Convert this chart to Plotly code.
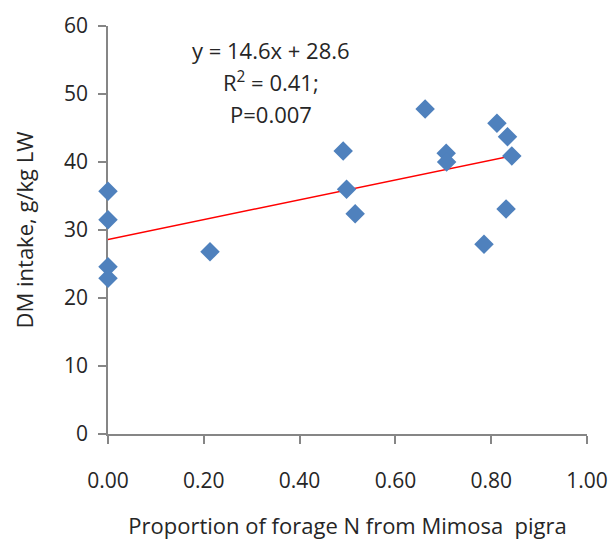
import plotly.graph_objects as go

# Data
x_vals = [0.0, 0.0, 0.0, 0.0, 0.213, 0.491, 0.498, 0.516, 0.662, 0.706, 0.707, 0.785, 0.812, 0.831, 0.834, 0.843]
y_vals = [35.7, 31.5, 24.6, 22.9, 26.8, 41.6, 36.0, 32.4, 47.8, 41.3, 40.0, 27.9, 45.7, 33.1, 43.7, 40.9]

slope = 14.6
intercept = 28.6
eq_lines = ["y = 14.6x + 28.6", "R<sup>2</sup> = 0.41;", "P=0.007"]

x_ticks = [0.0, 0.2, 0.4, 0.6, 0.8, 1.0]
y_ticks = [0, 10, 20, 30, 40, 50, 60]

FONT = "Open Sans"
TXT = "#262626"
AX = "#868686"

trend_x = [0.0, max(x_vals)]
trend_y = [intercept + slope * v for v in trend_x]

fig = go.Figure()
fig.add_trace(go.Scatter(
    x=trend_x, y=trend_y, mode="lines",
    line=dict(color="#FF0000", width=1.5),
    showlegend=False, hoverinfo="skip",
))
fig.add_trace(go.Scatter(
    x=x_vals, y=y_vals, mode="markers",
    marker=dict(symbol="diamond", size=15, color="#4F81BD"),
    cliponaxis=False, showlegend=False,
))

ann_y = [56.4, 51.8, 47.1]
for txt, yy in zip(eq_lines, ann_y):
    fig.add_annotation(x=0.34, y=yy, xref="x", yref="y", text=txt, showarrow=False,
                       font=dict(family=FONT, size=22, color=TXT), xanchor="center", yanchor="middle")

fig.update_layout(
    width=614, height=542,
    margin=dict(l=108, r=27, t=26, b=108),
    paper_bgcolor="white", plot_bgcolor="white",
    font=dict(family=FONT, size=21, color=TXT),
)
fig.update_xaxes(
    range=[0, 1], tickvals=x_ticks, tickformat=".2f",
    showgrid=False, zeroline=False, automargin=False,
    showline=True, linecolor=AX, linewidth=1.5,
    ticks="outside", ticklen=8, tickcolor=AX, tickwidth=1.5,
    ticklabelstandoff=19, layer="below traces",
    title=dict(text="Proportion of forage N from Mimosa  pigra", standoff=26,
               font=dict(family=FONT, size=22, color=TXT)),
)
fig.update_yaxes(
    range=[0, 60], tickvals=y_ticks,
    showgrid=False, zeroline=False, automargin=False,
    showline=True, linecolor=AX, linewidth=1.5,
    ticks="outside", ticklen=8, tickcolor=AX, tickwidth=1.5,
    ticklabelstandoff=6, layer="below traces",
    title=dict(text="DM intake, g/kg LW", standoff=24,
               font=dict(family=FONT, size=22, color=TXT)),
)

fig.write_html("out.html")
